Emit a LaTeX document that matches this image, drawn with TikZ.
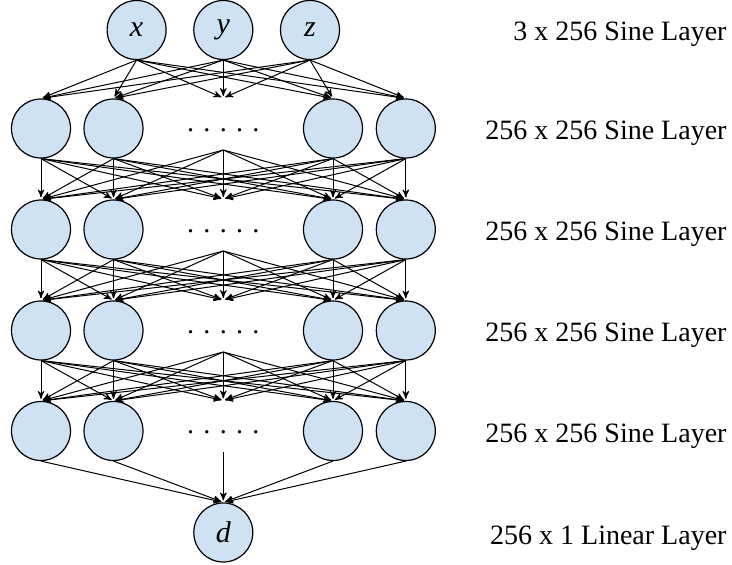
\documentclass[tikz,border=0pt]{standalone}
\usepackage{fontspec}
\setmainfont{Liberation Serif}
\usetikzlibrary{arrows}

\definecolor{nodeblue}{RGB}{207,226,243}

\begin{document}
\begin{tikzpicture}[x=0.5pt,y=-0.5pt,->,>=stealth',shorten >=1pt,line width=0.5pt,
  main node/.style={circle,fill=nodeblue,draw,line width=0.6pt,minimum size=29.5pt,
    inner sep=0pt,font=\fontsize{15}{18}\selectfont\itshape},
  dots node/.style={inner sep=0pt,text height=16.5pt,text depth=9pt,anchor=base,
    font=\fontsize{14}{17}\selectfont},
  layer label/.style={anchor=base east,inner sep=0pt,font=\fontsize{14}{17}\selectfont}]

  \useasboundingbox (0,0) rectangle (732,565);

  % input layer
  \node[main node] (x) at (136.6,30) {x};
  \node[main node] (y) at (223.3,30) {y};
  \node[main node] (z) at (310,30) {z};

  % hidden layers: four neurons and the dots in the middle (h\r-3)
  \foreach \r/\ry in {1/128.5,2/229.5,3/330.5,4/431} {
    \node[main node] (h\r-1) at (41,\ry) {};
    \node[main node] (h\r-2) at (113.5,\ry) {};
    \node[dots node] (h\r-3) at (223.3,\ry+3) {. . . . .};
    \node[main node] (h\r-4) at (333,\ry) {};
    \node[main node] (h\r-5) at (405.8,\ry) {};
  }

  % output
  \node[main node] (d) at (223.3,532.5) {d};

  % layer names
  \node[layer label] (l0) at (727,40.5) {3 x 256 Sine Layer};
  \node[layer label] (l1) at (727,140) {256 x 256 Sine Layer};
  \node[layer label] (l2) at (727,241) {256 x 256 Sine Layer};
  \node[layer label] (l3) at (727,342) {256 x 256 Sine Layer};
  \node[layer label] (l4) at (727,442.5) {256 x 256 Sine Layer};
  \node[layer label] (l5) at (727,544) {256 x 1 Linear Layer};

  % connections
  \foreach \s in {x,y,z}
    \foreach \t in {1,...,5}
      \draw (\s.south) -- (h1-\t.north);
  \foreach \r in {1,2,3} {
    \pgfmathtruncatemacro{\rnext}{\r+1}
    \foreach \s in {1,...,5}
      \foreach \t in {1,...,5}
        \draw (h\r-\s.south) -- (h\rnext-\t.north);
  }
  \foreach \s in {1,...,5}
    \draw (h4-\s.south) -- (d.north);
\end{tikzpicture}
\end{document}
